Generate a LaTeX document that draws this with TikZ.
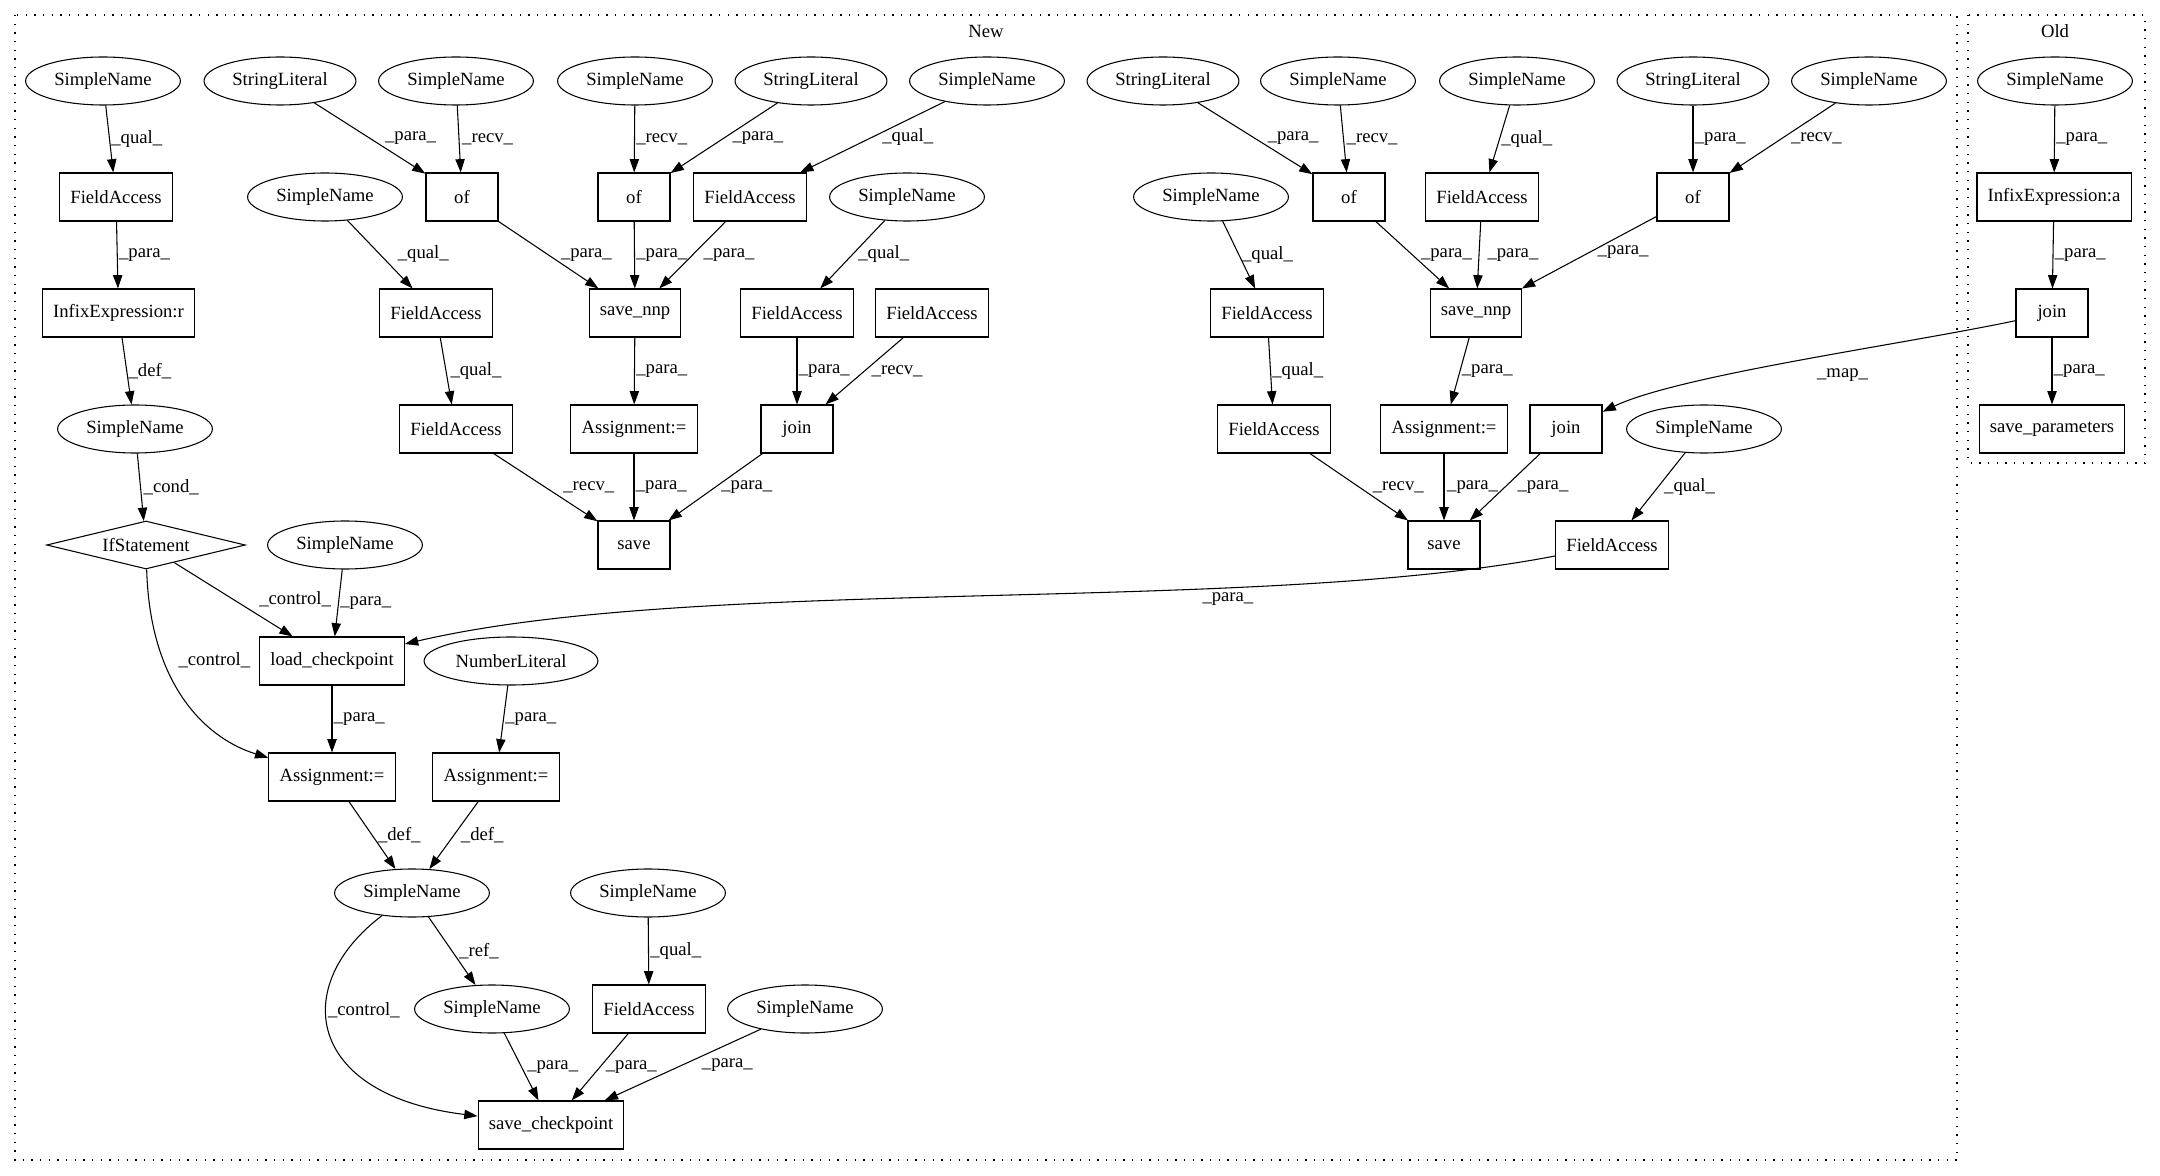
\documentclass[tikz,border=0pt]{standalone}
\usepackage{fontspec}
\setmainfont{Liberation Serif}
\usepackage{tikz}
\usetikzlibrary{shapes.geometric,arrows.meta}

\tikzset{
  sname/.style={draw, ellipse, inner xsep=4.5pt, inner ysep=2pt, minimum height=36pt},
  abox/.style={draw, rectangle, inner xsep=8pt, inner ysep=2pt, minimum height=36pt, minimum width=54pt},
  cond/.style={draw, diamond, aspect=4, inner sep=0pt, minimum width=149pt, minimum height=36pt},
  flow/.style={-{Triangle[length=10pt,width=7pt]}},
  lbl/.style={midway, anchor=west, inner sep=1pt},
  cluster/.style={dash pattern=on 1pt off 5.5pt}
}

\begin{document}
\begin{tikzpicture}[x=0.75pt, y=-0.75pt, line width=0.8pt, font=\fontsize{14}{17}\selectfont]
\useasboundingbox (0,0) rectangle (2160,1176);

% clusters
\draw[cluster] (15,15) rectangle (1957,1160);
\draw[cluster] (1968,15) rectangle (2145,463);
\node (new) at (986,31) {New};
\node (old) at (2055,31) {Old};

% left column
\node[sname] (sn1) at (103,81) {SimpleName};
\node[abox] (fa1) at (116,197) {FieldAccess};
\node[abox] (ier) at (118.5,313) {InfixExpression:r};
\node[sname] (sn2) at (135,429) {SimpleName};
\node[cond] (ifst) at (146,545) {IfStatement};
\node[sname] (sn3) at (345,545) {SimpleName};
\node[abox] (lc) at (332,661) {load\_checkpoint};
\node[sname] (nl) at (511,661) {NumberLiteral};
\node[abox] (as3) at (332,777) {Assignment:=};
\node[abox] (as4) at (496,777) {Assignment:=};
\node[sname] (sn4) at (412,893) {SimpleName};
\node[sname] (sn5) at (648,893) {SimpleName};
\node[sname] (sn6) at (492,1009) {SimpleName};
\node[abox] (fa12) at (649,1009) {FieldAccess};
\node[sname] (sn7) at (805,1009) {SimpleName};
\node[abox] (sc) at (551,1125) {save\_checkpoint};

% first save group
\node[sname] (sl1) at (280,81) {StringLiteral};
\node[sname] (sn8) at (456,81) {SimpleName};
\node[sname] (sn9) at (635,81) {SimpleName};
\node[sname] (sl2) at (811,81) {StringLiteral};
\node[sname] (sn10) at (987,81) {SimpleName};
\node[sname] (sn11) at (325,197) {SimpleName};
\node[abox] (of1) at (462,197) {of};
\node[abox] (of2) at (634,197) {of};
\node[abox] (fa2) at (750,197) {FieldAccess};
\node[sname] (sn12) at (907,197) {SimpleName};
\node[abox] (fa5) at (436,313) {FieldAccess};
\node[abox] (snnp1) at (635,313) {save\_nnp};
\node[abox] (fa6) at (797,313) {FieldAccess};
\node[abox] (fa7) at (932,313) {FieldAccess};
\node[abox] (fa9) at (456,429) {FieldAccess};
\node[abox] (as1) at (634,429) {Assignment:=};
\node[abox] (join1) at (797,429) {join};
\node[abox] (save1) at (634,545) {save};

% second save group
\node[sname] (sl3) at (1163,81) {StringLiteral};
\node[sname] (sn13) at (1338,81) {SimpleName};
\node[sname] (sn14) at (1517,81) {SimpleName};
\node[sname] (sl4) at (1693,81) {StringLiteral};
\node[sname] (sn15) at (1869,81) {SimpleName};
\node[sname] (sn16) at (1211,197) {SimpleName};
\node[abox] (of3) at (1349,197) {of};
\node[abox] (fa4) at (1482,197) {FieldAccess};
\node[abox] (of4) at (1693,197) {of};
\node[abox] (fa8) at (1267,313) {FieldAccess};
\node[abox] (snnp2) at (1476,313) {save\_nnp};
\node[abox] (fa10) at (1274,429) {FieldAccess};
\node[abox] (as2) at (1444,429) {Assignment:=};
\node[abox] (join2) at (1566,429) {join};
\node[sname] (sn17) at (1704,429) {SimpleName};
\node[abox] (save2) at (1444,545) {save};
\node[abox] (fa11) at (1612,545) {FieldAccess};

% old
\node[sname] (sno) at (2055,81) {SimpleName};
\node[abox] (iea) at (2054,197) {InfixExpression:a};
\node[abox] (joino) at (2052,313) {join};
\node[abox] (sp) at (2052,429) {save\_parameters};

% edges, left column
\draw[flow] (sn1) -- (fa1) node[lbl] {\_qual\_};
\draw[flow] (fa1) -- (ier) node[lbl] {\_para\_};
\draw[flow] (ier) -- (sn2) node[lbl] {\_def\_};
\draw[flow] (sn2) -- (ifst) node[lbl, xshift=1pt] {\_cond\_};
\draw[flow] (ifst) -- (lc) node[lbl, xshift=18pt] {\_control\_};
\draw[flow] (ifst) .. controls (150,690) and (210,740) .. (as3) node[lbl, pos=0.3, xshift=10pt] {\_control\_};
\draw[flow] (sn3) -- (lc) node[lbl] {\_para\_};
\draw[flow] (fa11) .. controls (1250,615) and (700,575) .. (lc) node[pos=0.3, below] {\_para\_};
\draw[flow] (lc) -- (as3) node[lbl] {\_para\_};
\draw[flow] (nl) -- (as4) node[lbl] {\_para\_};
\draw[flow] (as3) -- (sn4) node[lbl, xshift=3pt] {\_def\_};
\draw[flow] (as4) -- (sn4) node[lbl, xshift=4pt] {\_def\_};
\draw[flow] (sn4) -- (sn6) node[lbl, xshift=4pt] {\_ref\_};
\draw[flow] (sn4) .. controls (290,985) and (305,1095) .. (sc) node[lbl, pos=0.4] {\_control\_};
\draw[flow] (sn5) -- (fa12) node[lbl] {\_qual\_};
\draw[flow] (sn6) -- (sc) node[lbl, xshift=3pt] {\_para\_};
\draw[flow] (fa12) -- (sc) node[lbl, xshift=3pt] {\_para\_};
\draw[flow] (sn7) -- (sc) node[lbl, xshift=13pt] {\_para\_};

% edges, first save group
\draw[flow] (sl1) -- (of1) node[lbl, xshift=10pt] {\_para\_};
\draw[flow] (sn8) -- (of1) node[lbl, xshift=1pt] {\_recv\_};
\draw[flow] (sn9) -- (of2) node[lbl] {\_recv\_};
\draw[flow] (sl2) -- (of2) node[lbl, xshift=5pt] {\_para\_};
\draw[flow] (sn10) -- (fa2) node[lbl, xshift=6pt] {\_qual\_};
\draw[flow] (sn11) -- (fa5) node[lbl, xshift=12pt] {\_qual\_};
\draw[flow] (of1) -- (snnp1) node[lbl, xshift=8pt] {\_para\_};
\draw[flow] (of2) -- (snnp1) node[lbl] {\_para\_};
\draw[flow] (fa2) -- (snnp1) node[lbl, xshift=7pt] {\_para\_};
\draw[flow] (sn12) -- (fa6) node[lbl, xshift=3pt] {\_qual\_};
\draw[flow] (fa5) -- (fa9) node[lbl, xshift=2pt] {\_qual\_};
\draw[flow] (snnp1) -- (as1) node[lbl] {\_para\_};
\draw[flow] (fa6) -- (join1) node[lbl] {\_para\_};
\draw[flow] (fa7) -- (join1) node[lbl, xshift=4pt] {\_recv\_};
\draw[flow] (fa9) -- (save1) node[lbl, xshift=12pt] {\_recv\_};
\draw[flow] (as1) -- (save1) node[lbl] {\_para\_};
\draw[flow] (join1) -- (save1) node[lbl, xshift=3pt] {\_para\_};

% edges, second save group
\draw[flow] (sl3) -- (of3) node[lbl, xshift=8pt] {\_para\_};
\draw[flow] (sn13) -- (of3) node[lbl, xshift=1pt] {\_recv\_};
\draw[flow] (sn14) -- (fa4) node[lbl] {\_qual\_};
\draw[flow] (sl4) -- (of4) node[lbl] {\_para\_};
\draw[flow] (sn15) -- (of4) node[lbl, xshift=5pt] {\_recv\_};
\draw[flow] (sn16) -- (fa8) node[lbl, xshift=1pt] {\_qual\_};
\draw[flow] (of3) -- (snnp2) node[lbl, xshift=5pt] {\_para\_};
\draw[flow] (fa4) -- (snnp2) node[lbl, xshift=5pt] {\_para\_};
\draw[flow] (of4) -- (snnp2) node[lbl, xshift=5pt] {\_para\_};
\draw[flow] (fa8) -- (fa10) node[lbl] {\_qual\_};
\draw[flow] (snnp2) -- (as2) node[lbl] {\_para\_};
\draw[flow] (fa10) -- (save2) node[lbl, xshift=9pt] {\_recv\_};
\draw[flow] (as2) -- (save2) node[lbl, xshift=1pt] {\_para\_};
\draw[flow] (join2) -- (save2) node[lbl, xshift=8pt] {\_para\_};
\draw[flow] (sn17) -- (fa11) node[lbl, xshift=3pt] {\_qual\_};

% edges, old
\draw[flow] (sno) -- (iea) node[lbl] {\_para\_};
\draw[flow] (iea) -- (joino) node[lbl] {\_para\_};
\draw[flow] (joino) -- (sp) node[lbl] {\_para\_};
\draw[flow] (joino) .. controls (1900,345) and (1680,375) .. (join2) node[pos=0.4, below, yshift=-8pt] {\_map\_};

\end{tikzpicture}
\end{document}
